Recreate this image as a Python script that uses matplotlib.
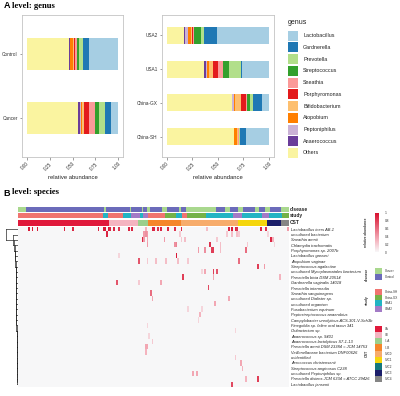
import numpy as np
import matplotlib
matplotlib.use('Agg')
import matplotlib.pyplot as plt
from matplotlib.colors import LinearSegmentedColormap, ListedColormap
from matplotlib.patches import Rectangle
from matplotlib.cm import ScalarMappable
from matplotlib.colors import Normalize

plt.rcParams['font.family'] = ['Liberation Sans', 'DejaVu Sans']

# ---------------- Panel A data ----------------
genera = ['Lactobacillus', 'Gardnerella', 'Prevotella', 'Streptococcus', 'Sneathia',
          'Porphyromonas', 'Bifidobacterium', 'Atopobium', 'Peptoniphilus',
          'Anaerococcus', 'Others']
genus_colors = ['#A6CEE3', '#1F78B4', '#B2DF8A', '#33A02C', '#FB9A99', '#E31A1C',
                '#FDBF6F', '#FF7F00', '#CAB2D6', '#6A3D9A', '#FAF4A0']

disease_groups = ['Control', 'Cancer']
control_abund = [0.324, 0.060, 0.050, 0.018, 0.025, 0.005, 0.018, 0.022, 0.005, 0.010, 0.463]
cancer_abund = [0.078, 0.066, 0.062, 0.047, 0.069, 0.048, 0.024, 0.012, 0.011, 0.018, 0.565]

study_groups = ['USA2', 'USA1', 'China-GX', 'China-SH']
usa2_abund = [0.506, 0.129, 0.030, 0.070, 0.012, 0.005, 0.015, 0.030, 0.020, 0.016, 0.167]
usa1_abund = [0.259, 0.013, 0.120, 0.059, 0.049, 0.049, 0.033, 0.020, 0.012, 0.023, 0.363]
chinagx_abund = [0.072, 0.085, 0.029, 0.030, 0.013, 0.042, 0.064, 0.010, 0.012, 0.006, 0.637]
chinash_abund = [0.229, 0.052, 0.009, 0.005, 0.006, 0.004, 0.012, 0.020, 0.004, 0.002, 0.657]

x_ticks = [0, 0.25, 0.5, 0.75, 1.0]
x_ticklabels = ['0.00', '0.25', '0.50', '0.75', '1.00']

# ---------------- Panel B data ----------------
species = ['Lactobacillus iners AB-1', 'uncultured bacterium', 'Sneathia amnii',
           'Chlamydia trachomatis', 'Porphyromonas sp. 2007b', 'Lactobacillus gasseri',
           'Atopobium vaginae', 'Streptococcus agalactiae',
           'uncultured Mycoplasmatales bacterium', 'Prevotella bivia DSM 20514',
           'Gardnerella vaginalis 14018', 'Prevotella intermedia',
           'Sneathia sanguinegens', 'uncultured Dialister sp.', 'uncultured organism',
           'Fusobacterium equinum', 'Peptostreptococcus anaerobius',
           'Campylobacter ureolyticus ACS-301-V-Sch3b',
           'Finegoldia sp. feline oral taxon 341', 'Oribacterium sp.',
           'Anaerococcus sp. 9401', 'Anaerococcus lactolyticus S7-1-13',
           'Prevotella amnii DSM 23384 = JCM 14753', 'Veillonellaceae bacterium DNF00626',
           'unidentified', 'Aerococcus christensenii', 'Streptococcus anginosus C238',
           'uncultured Peptoniphilus sp.', 'Prevotella disiens JCM 6334 = ATCC 29426',
           'Lactobacillus jensenii']

n_samples = 160

# sparse non-zero cells of the heatmap (row = species index, col = sample index)
hit_row = ([0] * 30 + [1] * 10 + [2] * 9 + [3] * 7 + [4] * 6 + [5] * 2 + [6] * 7 +
           [7] * 2 + [8] * 4 + [9] * 3 + [10] * 3 + [11] + [12] + [13] * 2 + [14] +
           [15] * 2 + [16] + [17] + [18] + [19] + [20] + [21] + [22] * 2 + [23] +
           [24] + [25] + [26] + [27] * 2 + [28] * 2 + [29])
hit_col = [6, 8, 11, 27, 32, 47, 50, 51, 53, 54, 56, 59, 65, 67, 75, 79, 80, 82, 84, 88,
           92, 96, 111, 124, 126, 128, 129, 143, 146, 159,
           52, 74, 75, 76, 95, 123, 126, 129, 130, 147,
           73, 74, 76, 86, 96, 98, 117, 149, 150,
           76, 92, 93, 113, 119, 135, 151,
           106, 110, 114, 115, 119, 134,
           59, 93,
           71, 76, 81, 87, 94, 100, 130,
           141, 145,
           108, 110, 115, 117,
           97, 115, 154,
           58, 71, 84,
           112,
           78,
           79, 124,
           116,
           100, 108,
           107,
           106,
           76,
           128,
           77,
           79,
           75, 76,
           75,
           128,
           131,
           132,
           103, 105,
           134, 141,
           126]
hit_val = [0.95, 0.95, 0.95, 0.9, 0.9, 0.9, 0.95, 0.95, 0.95, 0.9, 0.9, 0.85, 0.9, 0.9,
           0.3, 0.9, 0.9, 0.85, 0.9, 0.9, 0.85, 0.9, 0.25, 0.9, 0.95, 0.9, 0.85, 0.9,
           0.85, 0.4,
           0.9, 0.4, 0.45, 0.4, 0.2, 0.2, 0.25, 0.25, 0.2, 0.15,
           0.9, 0.4, 0.35, 0.4, 0.2, 0.25, 0.2, 0.9, 0.3,
           0.4, 0.45, 0.5, 0.85, 0.25, 0.2, 0.15,
           0.4, 0.45, 0.8, 0.8, 0.25, 0.6,
           0.15, 0.95,
           0.7, 0.2, 0.25, 0.25, 0.25, 0.2, 0.6,
           0.8, 0.4,
           0.15, 0.35, 0.8, 0.7,
           0.8, 0.35, 0.3,
           0.7, 0.2, 0.35,
           0.75,
           0.6,
           0.35, 0.35,
           0.35,
           0.15, 0.15,
           0.3,
           0.15,
           0.15,
           0.15,
           0.15,
           0.2,
           0.35, 0.35,
           0.3,
           0.2,
           0.35,
           0.3,
           0.35, 0.35,
           0.3, 0.8,
           0.75]

# dendrogram merge heights (row i joins the cluster of rows below it)
merge_heights = [1.0, 0.42, 0.27, 0.24, 0.21, 0.19, 0.18, 0.17, 0.16, 0.15, 0.14, 0.135,
                 0.13, 0.12, 0.115, 0.11, 0.105, 0.1, 0.095, 0.09, 0.085, 0.08, 0.075,
                 0.07, 0.065, 0.06, 0.055, 0.05, 0.04]

# sample annotations as runs
disease_levels = ['Cancer', 'Control']
disease_colors = ['#A9D88E', '#6B6BBA']
disease_runs = [('Cancer', 5), ('Control', 46), ('Cancer', 1), ('Control', 14), ('Cancer', 1),
                ('Control', 6), ('Cancer', 1), ('Control', 2), ('Cancer', 2), ('Control', 7),
                ('Cancer', 3), ('Control', 7), ('Cancer', 1), ('Control', 3), ('Cancer', 18),
                ('Control', 5), ('Cancer', 3), ('Control', 5), ('Cancer', 3), ('Control', 7),
                ('Cancer', 2), ('Control', 4), ('Cancer', 3), ('Control', 6), ('Cancer', 5)]

study_levels = ['China-SH', 'China-GX', 'USA1', 'USA2']
study_colors = ['#F07470', '#74B247', '#22B4C3', '#A37BC6']
study_runs = [('China-SH', 50), ('USA1', 3), ('China-SH', 9), ('USA1', 5), ('USA2', 5),
              ('USA1', 2), ('USA2', 3), ('China-SH', 10), ('China-GX', 6), ('USA1', 4),
              ('China-SH', 3), ('China-GX', 11), ('USA1', 16), ('USA2', 5), ('USA1', 12),
              ('USA2', 4), ('USA1', 8), ('China-GX', 4)]

cst_levels = ['I-A', 'I-B', 'III-A', 'III-B', 'IV-C0', 'IV-C1', 'IV-C2', 'IV-C3', 'IV-C4']
cst_colors = ['#E0193B', '#F4B4C0', '#9BCF8C', '#F5862A', '#F7AC6C', '#F5D60C',
              '#14787E', '#1B1E6A', '#858585']
cst_runs = [('I-A', 54), ('I-B', 17), ('III-A', 6), ('III-B', 19), ('IV-C0', 34),
            ('IV-C1', 17), ('IV-C3', 8), ('IV-C4', 5)]

cbar_ticks = [0, 0.2, 0.4, 0.6, 0.8, 1]
cbar_ticklabels = ['0', '0.2', '0.4', '0.6', '0.8', '1']

# ---------------- figure ----------------
W, H = 400, 396
fig = plt.figure(figsize=(W / 100, H / 100), dpi=100)


def px_axes(x0, y0, x1, y1):
    return fig.add_axes([x0 / W, 1 - y1 / H, (x1 - x0) / W, (y1 - y0) / H])


def stacked(ax, groups, data):
    y = np.arange(len(groups))[::-1]
    left = np.zeros(len(groups))
    for gi in reversed(range(len(genera))):
        vals = np.array([data[g][gi] for g in groups])
        ax.barh(y, vals, left=left, height=0.5, color=genus_colors[gi], linewidth=0)
        left += vals
    ax.set_yticks(y)
    ax.set_yticklabels(groups, fontsize=3.4, color='#333333')
    ax.set_ylim(-0.6, len(groups) - 0.4)
    ax.set_xlim(-0.05, 1.05)
    ax.set_xticks(x_ticks)
    ax.set_xticklabels(x_ticklabels, fontsize=3.4, color='#333333', rotation=45,
                       ha='right', va='top', rotation_mode='anchor')
    ax.tick_params(length=1.8, width=0.4, color='#555555', pad=1.2)
    for s in ax.spines.values():
        s.set_color('#C4C4C4')
        s.set_linewidth(0.6)
    ax.set_xlabel('relative abundance', fontsize=4.2, color='#222222', labelpad=2.5)


axL = px_axes(22, 15, 123, 157)
stacked(axL, disease_groups, {'Control': control_abund, 'Cancer': cancer_abund})
axR = px_axes(161.7, 15, 274, 157)
stacked(axR, study_groups, {'USA2': usa2_abund, 'USA1': usa1_abund,
                            'China-GX': chinagx_abund, 'China-SH': chinash_abund})

# ---- heatmap ----
mat = np.zeros((len(species), n_samples))
for r, c, v in zip(hit_row, hit_col, hit_val):
    mat[r, c] = v

cmap = LinearSegmentedColormap.from_list(
    'w2r', [(0, '#F7F7F8'), (0.3, '#F4B3BE'), (1, '#D8102F')])
axH = px_axes(17.7, 226.5, 287.7, 387)
axH.imshow(mat, aspect='auto', cmap=cmap, vmin=0, vmax=1, interpolation='none')
axH.set_xticks([])
axH.yaxis.tick_right()
axH.set_yticks(np.arange(len(species)))
axH.set_yticklabels(species, fontsize=2.9, style='italic', color='#222222')
axH.tick_params(axis='y', length=0, pad=2.3)
for s in axH.spines.values():
    s.set_visible(False)

# ---- annotation bars ----
def runs_to_codes(runs, levels):
    return np.repeat([levels.index(k) for k, _ in runs], [n for _, n in runs])


ann_specs = [('disease', disease_runs, disease_levels, disease_colors, 207.3, 212.3),
             ('study', study_runs, study_levels, study_colors, 213.3, 217.9),
             ('CST', cst_runs, cst_levels, cst_colors, 219.8, 225.7)]
for name, runs, levels, colors, y0, y1 in ann_specs:
    ax = px_axes(17.7, y0, 287.7, y1)
    codes = runs_to_codes(runs, levels)[None, :]
    ax.imshow(codes, aspect='auto', cmap=ListedColormap(colors), vmin=-0.5,
              vmax=len(levels) - 0.5, interpolation='none')
    ax.set_xticks([])
    ax.set_yticks([])
    for s in ax.spines.values():
        s.set_visible(False)
    ax.text(1.008, 0.5, name, transform=ax.transAxes, fontsize=3.5, fontweight='bold',
            va='center', ha='left', color='#222222')

# ---- dendrogram ----
axD = px_axes(2, 226.5, 17.7, 387)
n = len(species)
pos = n - 1
h_prev = 0.0
for i in range(n - 2, -1, -1):
    h = merge_heights[i]
    axD.plot([0, h], [i, i], color='#111111', lw=0.45)
    axD.plot([h_prev, h], [pos, pos], color='#111111', lw=0.45)
    axD.plot([h, h], [i, pos], color='#111111', lw=0.45)
    pos = (i + pos) / 2
    h_prev = h
axD.set_xlim(1.3, 0)
axD.set_ylim(n - 0.5, -0.5)
axD.axis('off')

# ---- colorbar ----
cax = px_axes(375, 213, 378.5, 252)
cb = fig.colorbar(ScalarMappable(norm=Normalize(0, 1), cmap=cmap), cax=cax)
cb.outline.set_visible(False)
cb.set_ticks(cbar_ticks)
cb.set_ticklabels(cbar_ticklabels)
cax.tick_params(length=0, labelsize=2.3, pad=4.5, labelcolor='#333333')

# ---- overlay: titles & legends ----
ov = fig.add_axes([0, 0, 1, 1])
ov.set_xlim(0, W)
ov.set_ylim(H, 0)
ov.axis('off')
ov.patch.set_alpha(0)

ov.text(3.5, 6, 'A', fontsize=6.5, fontweight='bold', va='center', ha='left')
ov.text(12.5, 5.5, 'level: genus', fontsize=6.2, fontweight='bold', va='center',
        ha='left', family='Liberation Serif')
ov.text(3.5, 193, 'B', fontsize=6.5, fontweight='bold', va='center', ha='left')
ov.text(12.5, 192.5, 'level: species', fontsize=6.2, fontweight='bold', va='center',
        ha='left', family='Liberation Serif')

# genus legend
ov.text(288, 23, 'genus', fontsize=5, va='center', ha='left', color='#222222')
for k, g in enumerate(genera):
    yc = 35.7 + 11.73 * k
    ov.add_patch(Rectangle((288, yc - 5), 10, 10, facecolor=genus_colors[k],
                           edgecolor='none'))
    ov.text(303, yc, g, fontsize=3.9, va='center', ha='left', color='#222222')

# heatmap legends
ov.text(366, 232, 'relative abundance', rotation=90, fontsize=2.3, fontweight='bold',
        va='center', ha='center', color='#333333')


def small_legend(title, levels, colors, y_first, step, title_y):
    ov.text(366.5, title_y, title, rotation=90, fontsize=2.6, fontweight='bold',
            va='center', ha='center', color='#333333')
    for k, (lab, col) in enumerate(zip(levels, colors)):
        yc = y_first + step * k
        ov.add_patch(Rectangle((375, yc - step / 2), 6.5, step, facecolor=col,
                               edgecolor='none'))
        ov.text(385, yc, lab, fontsize=2.2, va='center', ha='left', color='#333333')


small_legend('disease', disease_levels, disease_colors, 271, 6.0, 274)
small_legend('study', study_levels, study_colors, 292, 5.6, 300)
small_legend('CST', cst_levels, cst_colors, 328.7, 6.3, 353)

fig.savefig('out.png', dpi=100)
